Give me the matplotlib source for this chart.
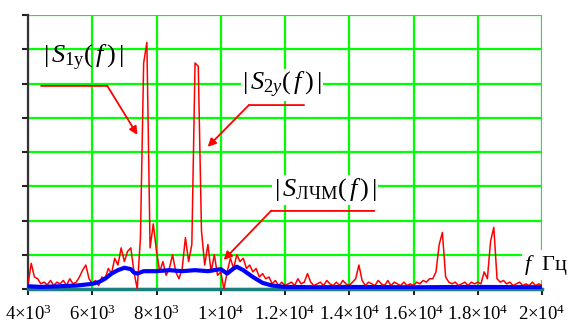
import matplotlib
matplotlib.use('Agg')
import matplotlib.pyplot as plt
import numpy as np

# spectrum magnitudes (grid units), red trace sampled every 100 Hz from 4 kHz to 20 kHz
freqRed = np.arange(4000, 20001, 100)
ampRed = [
    0.12, 0.75, 0.35, 0.30, 0.15, 0.20, 0.12, 0.25, 0.10, 0.20,   # 4000
    0.15, 0.25, 0.10, 0.30, 0.15, 0.20, 0.35, 0.55, 0.70, 0.30,   # 5000
    0.15, 0.25, 0.10, 0.35, 0.30, 0.60, 0.45, 0.90, 0.70, 1.20,   # 6000
    0.80, 1.10, 1.20, 0.50, 0.00, 1.50, 6.60, 7.20, 1.20, 1.90,   # 7000
    1.10, 0.50, 0.80, 0.40, 0.60, 1.00, 0.50, 0.30, 0.60, 1.50,   # 8000
    0.80, 1.30, 6.60, 6.50, 1.70, 0.70, 1.30, 0.50, 1.00, 0.40,   # 9000
    0.50, 0.00, 0.50, 0.90, 0.60, 1.00, 0.80, 0.90, 0.60, 0.70,   # 10000
    0.50, 0.60, 0.35, 0.45, 0.30, 0.35, 0.15, 0.25, 0.10, 0.20,   # 11000
    0.10, 0.15, 0.20, 0.10, 0.30, 0.15, 0.20, 0.45, 0.20, 0.10,   # 12000
    0.15, 0.20, 0.10, 0.25, 0.15, 0.10, 0.20, 0.10, 0.25, 0.15,   # 13000
    0.10, 0.20, 0.30, 0.70, 0.25, 0.10, 0.20, 0.15, 0.10, 0.25,   # 14000
    0.15, 0.10, 0.25, 0.10, 0.20, 0.15, 0.10, 0.20, 0.10, 0.15,   # 15000
    0.10, 0.20, 0.15, 0.25, 0.20, 0.30, 0.30, 0.50, 1.30, 1.65,   # 16000
    0.35, 0.20, 0.15, 0.20, 0.10, 0.15, 0.20, 0.10, 0.20, 0.15,   # 17000
    0.20, 0.15, 0.50, 0.30, 1.40, 1.80, 0.30, 0.20, 0.25, 0.15,   # 18000
    0.20, 0.10, 0.15, 0.20, 0.10, 0.15, 0.10, 0.20, 0.10, 0.15,   # 19000
    0.10,                                                         # 20000
]

# smoothed LFM spectrum (blue)
freqBlue = [4000, 4400, 5000, 5500, 6000, 6200, 6400, 6600, 6800, 7000, 7200, 7300,
            7400, 7600, 8000, 8400, 8800, 9200, 9600, 10000, 10200, 10400, 10500,
            10700, 11000, 11300, 11600, 12000, 13000, 14000, 16000, 18000, 20000]
ampBlue = [0.08, 0.06, 0.08, 0.10, 0.15, 0.20, 0.30, 0.45, 0.55, 0.62, 0.58, 0.48,
           0.45, 0.52, 0.52, 0.55, 0.52, 0.55, 0.52, 0.58, 0.45, 0.60, 0.65,
           0.55, 0.35, 0.18, 0.10, 0.06, 0.05, 0.06, 0.05, 0.06, 0.05]

xTicks = [4000, 6000, 8000, 10000, 12000, 14000, 16000, 18000, 20000]
xTickLabels = [r'$4{\times}10^{3}$', r'$6{\times}10^{3}$', r'$8{\times}10^{3}$',
               r'$1{\times}10^{4}$', r'$1.2{\times}10^{4}$', r'$1.4{\times}10^{4}$',
               r'$1.6{\times}10^{4}$', r'$1.8{\times}10^{4}$', r'$2{\times}10^{4}$']

plt.rcParams['mathtext.fontset'] = 'custom'
plt.rcParams['mathtext.rm'] = 'Liberation Serif'
plt.rcParams['mathtext.it'] = 'Liberation Serif:italic'
plt.rcParams['mathtext.bf'] = 'Liberation Serif:bold'
plt.rcParams['font.family'] = ['Liberation Serif', 'DejaVu Serif']

fig = plt.figure( figsize = (5.71, 3.27), dpi = 100 )
ax = fig.add_axes( [28/571, 1 - 289/327, 514/571, 274/327] )

ax.plot( freqRed, ampRed, color = '#ff0000', lw = 1.1, zorder = 3 )
ax.plot( freqBlue, ampBlue, color = '#0000ff', lw = 3.0, zorder = 4 )

ax.set_xlim( 4000, 20000 )
ax.set_ylim( 0, 8 )
ax.set_xticks( xTicks )
ax.set_xticklabels( xTickLabels, fontsize = 13.5 )
ax.set_yticks( range(0, 9) )
ax.set_yticklabels( [] )
ax.tick_params( axis = 'x', direction = 'out', length = 4, width = 1.5, color = '#222222', pad = 7 )
ax.tick_params( axis = 'y', direction = 'out', length = 4, width = 1.5, color = '#222222' )

ax.grid( color = '#00ff00', lw = 1.6, zorder = 0 )
ax.set_axisbelow( True )
for side in ['top', 'right']: ax.spines[side].set_visible( False )
ax.spines['left'].set_color( '#333333' ); ax.spines['left'].set_linewidth( 1.6 )
ax.spines['bottom'].set_color( '#1a7f7f' ); ax.spines['bottom'].set_linewidth( 2.5 )

# annotations: label, horizontal leader, arrow to the curve
arrowProps = dict( arrowstyle = '-|>', color = '#ff0000', lw = 1.3, mutation_scale = 12, shrinkA = 0, shrinkB = 0 )
lineProps = dict( arrowstyle = '-', color = '#ff0000', lw = 1.3, shrinkA = 0, shrinkB = 0 )

ax.text( 5720, 6.74, r'$|\,S_{\mathrm{1у}}(\,f\,)\,|$', fontsize = 19, ha = 'center', va = 'center', zorder = 6 )
ax.annotate( '', xy = (6469, 5.93), xytext = (4406, 5.93), arrowprops = lineProps )
ax.annotate( '', xy = (7406, 4.5), xytext = (6469, 5.93), arrowprops = arrowProps )

ax.text( 11906, 5.96, r'$|\,S_{2y}(\,f\,)\,|$', fontsize = 19, ha = 'center', va = 'center', zorder = 6,
         bbox = dict( facecolor = 'white', edgecolor = 'none', pad = 1 ) )
ax.annotate( '', xy = (10875, 5.37), xytext = (12594, 5.37), arrowprops = lineProps )
ax.annotate( '', xy = (9594, 4.15), xytext = (10875, 5.37), arrowprops = arrowProps )

ax.text( 13250, 2.89, r'$|\,S_{\mathrm{ЛЧМ}}(\,f\,)\,|$', fontsize = 19, ha = 'center', va = 'center', zorder = 6,
         bbox = dict( facecolor = 'white', edgecolor = 'none', pad = 1 ) )
ax.annotate( '', xy = (11563, 2.28), xytext = (14781, 2.28), arrowprops = lineProps )
ax.annotate( '', xy = (10094, 0.85), xytext = (11563, 2.28), arrowprops = arrowProps )

ax.text( 19450, 0.7, r'$f$' + '  Гц', fontsize = 16, ha = 'left', va = 'center', zorder = 6, clip_on = False,
         bbox = dict( facecolor = 'white', edgecolor = 'none', pad = 2 ) )

fig.savefig( 'out.png', dpi = 100 )
